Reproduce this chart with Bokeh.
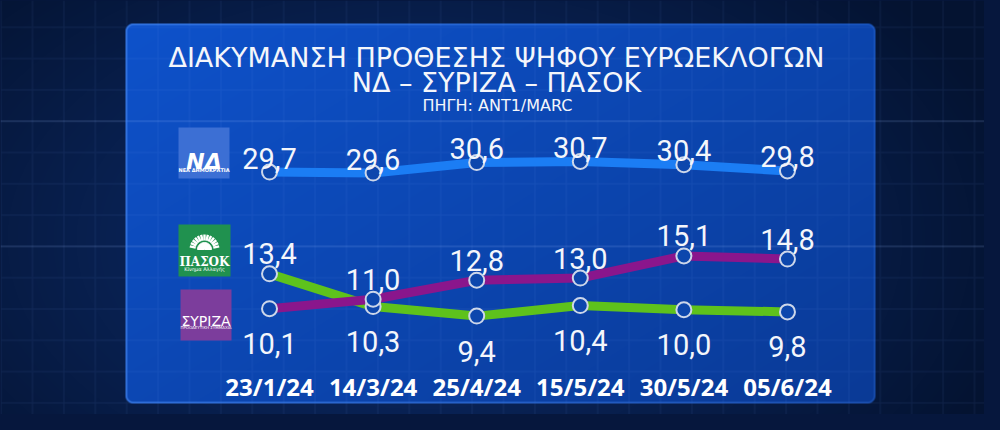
import re
import numpy as np
from bokeh.plotting import figure
from bokeh.models import Range1d, ColumnDataSource
from bokeh.core.properties import value
from bokeh.embed import file_html
from bokeh.resources import INLINE

# ---------------- data ----------------
dates = ["23/1/24", "14/3/24", "25/4/24", "15/5/24", "30/5/24", "05/6/24"]
nd = [29.7, 29.6, 30.6, 30.7, 30.4, 29.8]
pasok = [13.4, 10.3, 9.4, 10.4, 10.0, 9.8]
syriza = [10.1, 11.0, 12.8, 13.0, 15.1, 14.8]
title_lines = ["ΔΙΑΚΥΜΑΝΣΗ ΠΡΟΘΕΣΗΣ ΨΗΦΟΥ ΕΥΡΩΕΚΛΟΓΩΝ", "ΝΔ – ΣΥΡΙΖΑ – ΠΑΣΟΚ"]
source_line = "ΠΗΓΗ: ANT1/MARC"
logo_texts = {"nd": ("ΝΔ", "ΝΕΑ ΔΗΜΟΚΡΑΤΙΑ"),
              "pasok": ("ΠΑΣΟΚ", "Κίνημα Αλλαγής"),
              "syriza": ("ΣΥΡΙΖΑ", "ΠΡΟΟΔΕΥΤΙΚΗ ΣΥΜΜΑΧΙΑ")}


def fmt(v):
    return f"{v:.1f}".replace(".", ",")


W, H = 984, 414
PAGE_BG = "#06173d"


def X(px):  # picture pixel -> decoration range
    return px


def Y(py):
    return H - py


p = figure(width=W, height=H, x_range=Range1d(-2.597, 6.902),
           y_range=Range1d(0.082, 39.287), output_backend="svg",
           toolbar_location=None, x_axis_location=None, y_axis_location=None,
           min_border=0)
p.min_border_left = p.min_border_right = p.min_border_top = p.min_border_bottom = 0
p.extra_x_ranges = {"px": Range1d(0, W)}
p.extra_y_ranges = {"py": Range1d(0, H), "nd": Range1d(6.740, 45.944)}
p.grid.visible = False
p.outline_line_color = None
p.background_fill_color = PAGE_BG
p.border_fill_color = PAGE_BG

# ---------------- background (decoration) ----------------
yy, xx = np.mgrid[0:H, 0:W].astype(float)
gx = xx + 0.5
gy = yy + 0.5


def hexrgb(h):
    return np.array([int(h[i:i + 2], 16) for i in (1, 3, 5)], float)


def lerp(c1, c2, t):
    return c1[None, None, :] * (1 - t[..., None]) + c2[None, None, :] * t[..., None]


def blend(rgb, col, a):
    return rgb * (1 - a[..., None]) + hexrgb(col)[None, None, :] * a[..., None]


d = np.clip(np.sqrt(((gx - 420) / 620) ** 2 + ((gy - 240) / 380) ** 2), 0, 1)
rgb = lerp(hexrgb("#0d2e70"), hexrgb("#041331"), d)

px0, px1, py0, py1, rad = 125, 875, 23, 403, 8
cx = np.clip(gx, px0 + rad, px1 - rad)
cy = np.clip(gy, py0 + rad, py1 - rad)
dist = np.sqrt((gx - cx) ** 2 + (gy - cy) ** 2)
pa = np.clip(rad + 0.5 - dist, 0, 1)
t = np.clip(0.55 * (gx - px0) / (px1 - px0) + 0.45 * (gy - py0) / (py1 - py0), 0, 1)
pc = lerp(hexrgb("#0e52cb"), hexrgb("#0a3a96"), t)
rgb = rgb * (1 - pa[..., None]) + pc * pa[..., None]

# grid lines
gv = np.zeros_like(gx)
for k in range(0, 33):
    xk = 0.6 + 31.4 * k
    gv = np.maximum(gv, np.clip(1 - np.abs(gx - xk), 0, 1))
gh = np.zeros_like(gy)
ghb = np.zeros_like(gy)
for k in range(-4, 10):
    yk = 120.7 + 31.3 * k
    g = np.clip(1 - np.abs(gy - yk), 0, 1)
    if k in (0, 4):
        ghb = np.maximum(ghb, g)
    else:
        gh = np.maximum(gh, g)
rgb = blend(rgb, "#7fa8ff", 0.10 * np.maximum(gv, gh))
rgb = blend(rgb, "#9fc0ff", 0.28 * ghb)

# panel edge
edge = np.clip(1.3 - np.abs(dist - (rad - 0.9)), 0, 1)
estr = np.clip(0.85 - 0.55 * (gx - px0) / (px1 - px0), 0.25, 0.85)
rgb = blend(rgb, "#3f80ea", edge * estr)

rgb = np.clip(rgb, 0, 255).astype(np.uint8)
img = np.empty((H, W), dtype=np.uint32)
view = img.view(dtype=np.uint8).reshape((H, W, 4))
view[..., 0] = rgb[..., 0]
view[..., 1] = rgb[..., 1]
view[..., 2] = rgb[..., 2]
view[..., 3] = 255
p.image_rgba(image=[np.flipud(img)], x=0, y=0, dw=W, dh=H,
             x_range_name="px", y_range_name="py")

# ---------------- title ----------------
white = "#f4f6fb"
p.text(x=[X(496)] * 2, y=[Y(57), Y(82)], text=title_lines,
       x_range_name="px", y_range_name="py", text_align="center",
       text_baseline="alphabetic", text_color=white,
       text_font=value("DejaVu Sans"), text_font_size="27px")
p.text(x=[X(497)], y=[Y(105)], text=[source_line],
       x_range_name="px", y_range_name="py", text_align="center",
       text_baseline="alphabetic", text_color=white,
       text_font=value("DejaVu Sans"), text_font_size="16px")

# ---------------- logos (decoration) ----------------
p.quad(left=[X(178), X(178), X(180)], right=[X(229), X(230), X(231)],
       top=[Y(127), Y(224), Y(289)], bottom=[Y(178), Y(276), Y(340)],
       fill_color=["#3c6fd4", "#20914f", "#7c3d9c"], line_color=None,
       x_range_name="px", y_range_name="py")
# ND
p.text(x=[X(203.5)], y=[Y(161)], text=[logo_texts["nd"][0]], x_range_name="px",
       y_range_name="py", text_align="center", text_baseline="alphabetic",
       text_color="white", text_font=value("DejaVu Sans"),
       text_font_style="bold italic", text_font_size="22px")
p.text(x=[X(203.5)], y=[Y(169)], text=[logo_texts["nd"][1]], x_range_name="px",
       y_range_name="py", text_align="center", text_baseline="alphabetic",
       text_color="white", text_font=value("DejaVu Sans"),
       text_font_style="bold", text_font_size="5px")
# PASOK sun
p.wedge(x=[X(204)], y=[Y(249)], radius=7, start_angle=0, end_angle=np.pi,
        color="white", x_range_name="px", y_range_name="py")
ang = np.deg2rad(np.arange(12, 180, 13))
p.segment(x0=X(204) + 9 * np.cos(ang), y0=Y(249) + 9 * np.sin(ang),
          x1=X(204) + 15 * np.cos(ang), y1=Y(249) + 15 * np.sin(ang),
          line_color="white", line_width=2.4, x_range_name="px", y_range_name="py")
p.text(x=[X(204)], y=[Y(261)], text=[logo_texts["pasok"][0]], x_range_name="px",
       y_range_name="py", text_align="center", text_baseline="alphabetic",
       text_color="white", text_font=value("DejaVu Serif"),
       text_font_style="bold", text_font_size="12px")
p.text(x=[X(204)], y=[Y(268)], text=[logo_texts["pasok"][1]], x_range_name="px",
       y_range_name="py", text_align="center", text_baseline="alphabetic",
       text_color="white", text_font=value("DejaVu Sans"), text_font_size="5px")
# SYRIZA
p.text(x=[X(205.5)], y=[Y(320)], text=[logo_texts["syriza"][0]], x_range_name="px",
       y_range_name="py", text_align="center", text_baseline="alphabetic",
       text_color="white", text_font=value("DejaVu Sans"), text_font_size="14px")
p.text(x=[X(205.5)], y=[Y(327)], text=[logo_texts["syriza"][1]], x_range_name="px",
       y_range_name="py", text_align="center", text_baseline="alphabetic",
       text_color="white", text_font=value("DejaVu Sans"), text_font_size="4px")

# ---------------- data marks ----------------
xs = list(range(len(dates)))
ABOVE, BELOW = -20, 35
pas_off = [ABOVE if a > b else BELOW for a, b in zip(pasok, syriza)]
syr_off = [ABOVE if b > a else BELOW for a, b in zip(pasok, syriza)]
src = ColumnDataSource(dict(x=xs, nd=nd, pasok=pasok, syriza=syriza,
                            nd_lab=[fmt(v) for v in nd],
                            pasok_lab=[fmt(v) for v in pasok],
                            syriza_lab=[fmt(v) for v in syriza],
                            pas_off=pas_off, syr_off=syr_off,
                            nd_off=[-14] * len(nd)))

p.line("x", "nd", source=src, y_range_name="nd", line_color="#1b7df4",
       line_width=9, line_join="round")
p.line("x", "pasok", source=src, line_color="#5ec21c", line_width=9,
       line_join="round")
p.line("x", "syriza", source=src, line_color="#8a168c", line_width=9,
       line_join="round")

mk = dict(size=15, fill_color="#0d47ad", line_color="#cdd7ea", line_width=2)
p.scatter("x", "nd", source=src, y_range_name="nd", **mk)
p.scatter("x", "pasok", source=src, **mk)
p.scatter("x", "syriza", source=src, **mk)

lab = dict(text_align="center", text_baseline="alphabetic", text_color=white,
           text_font=value("Roboto"), text_font_size="29px")
p.text("x", "nd", text="nd_lab", y_offset="nd_off", source=src,
       y_range_name="nd", **lab)
p.text("x", "pasok", text="pasok_lab", y_offset="pas_off", source=src, **lab)
p.text("x", "syriza", text="syriza_lab", y_offset="syr_off", source=src, **lab)

# dates
p.text(x=xs, y=[Y(385.7)] * len(xs), text=dates, y_range_name="py",
       text_align="center", text_baseline="alphabetic", text_color="white",
       text_font=value("Open Sans"), text_font_style="bold",
       text_font_size="24px")

html = file_html(p, INLINE)
style = ("<style>html,body{background-color:%s !important;}</style>" % PAGE_BG)
if "</head>" in html:
    html = html.replace("</head>", style + "</head>", 1)
else:
    html = style + html
html = re.sub(r"<body([^>]*)>",
              lambda m: "<body%s style=\"background-color:%s;\">" % (m.group(1), PAGE_BG)
              if "style" not in m.group(1) else m.group(0), html, count=1)
open("out.html", "w").write(html)
